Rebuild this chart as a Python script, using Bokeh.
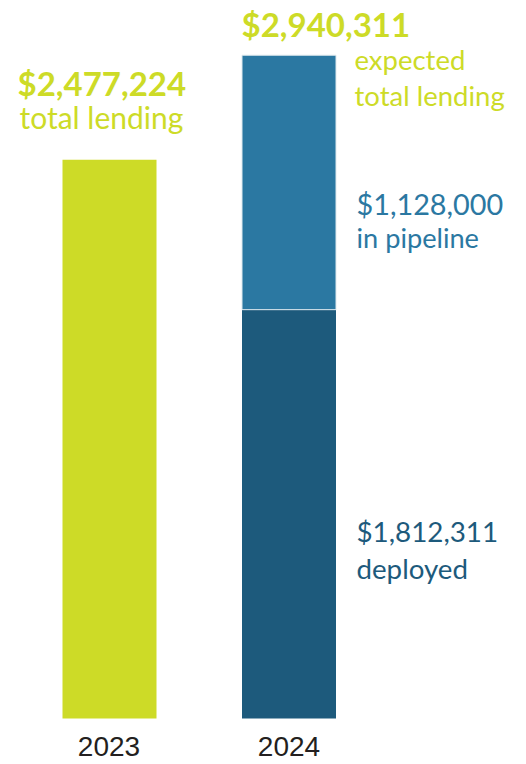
from bokeh.plotting import figure
from bokeh.models import Range1d, Label, ColumnDataSource
from bokeh.embed import file_html
from bokeh.resources import INLINE

years = ["2023", "2024"]
total_2023 = [2477224]
deployed_2024 = [1812311]
pipeline_2024 = [1128000]
expected_2024 = deployed_2024[0] + pipeline_2024[0]

GREEN = "#CDDB27"
LIGHT = "#2B78A2"
DARK = "#1D5A7C"
GREY = "#231F20"

W, H = 526, 764
px_per_unit = 179.5
x_start = 0.5 - 109 / px_per_unit
x_end = x_start + W / px_per_unit
dollars_per_px = 4433.0
base_px = 46
y_start = -base_px * dollars_per_px
y_end = (H - base_px) * dollars_per_px

p = figure(width=W, height=H, x_range=Range1d(x_start, x_end),
           y_range=Range1d(y_start, y_end), output_backend="svg", toolbar_location=None,
           min_border=0, outline_line_color=None)
p.axis.visible = False
p.grid.visible = False
p.background_fill_color = "white"
p.border_fill_color = "white"

xpos = {y: i + 0.5 for i, y in enumerate(years)}
bw = 94 / px_per_unit
src23 = ColumnDataSource(dict(x=[xpos[years[0]]], top=total_2023, bottom=[0]))
p.vbar(x="x", top="top", bottom="bottom", width=bw, source=src23, fill_color=GREEN, line_color=None)
src_dep = ColumnDataSource(dict(x=[xpos[years[1]]], top=deployed_2024, bottom=[0]))
p.vbar(x="x", top="top", bottom="bottom", width=bw, source=src_dep, fill_color=DARK, line_color=None)
src_pipe = ColumnDataSource(dict(x=[xpos[years[1]]], top=[expected_2024], bottom=deployed_2024))
p.vbar(x="x", top="top", bottom="bottom", width=bw, source=src_pipe, fill_color=LIGHT,
       line_color="#dfe9ee", line_width=1)

FONT = "Lato"

def lab(text, X, Y, size, color, style="normal", align="left", font=FONT):
    corr = 0.4 * size
    p.add_layout(Label(x=X, y=H - Y + corr, x_units="screen", y_units="screen", text=text,
                       text_font=font, text_font_size=f"{size}px", text_color=color,
                       text_font_style=style, text_align=align, text_baseline="alphabetic"))

def money(v):
    return f"${v:,}"

lab(money(total_2023[0]), 17, 96, 33, GREEN, "bold")
lab("total lending", 19, 128, 30, GREEN)
lab(money(expected_2024), 241, 37, 33, GREEN, "bold")
lab("expected", 354, 70, 27.5, GREEN)
lab("total lending", 354, 106, 27.5, GREEN)
lab(money(pipeline_2024[0]), 356, 215, 28.8, LIGHT)
lab("in pipeline", 356, 248, 27.2, LIGHT)
lab(money(deployed_2024[0]), 356, 542, 27.8, DARK)
lab("deployed", 356, 579, 27.7, DARK)
lab(years[0], 108.5, 757, 28, GREY, align="center", font="Liberation Sans")
lab(years[1], 288.5, 757, 28, GREY, align="center", font="Liberation Sans")

open("out.html", "w").write(file_html(p, INLINE))
